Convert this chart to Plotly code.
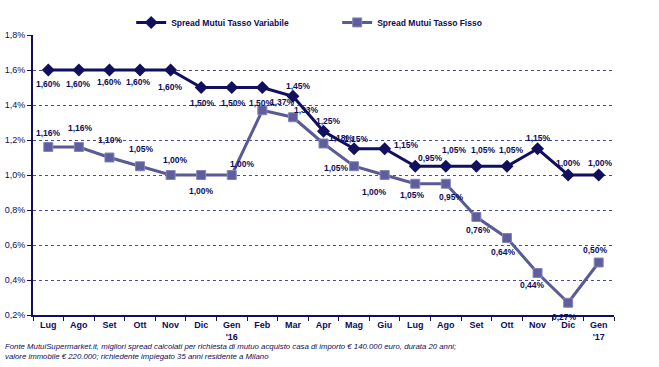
import plotly.graph_objects as go

# ---- data ----
months = ["Lug", "Ago", "Set", "Ott", "Nov", "Dic", "Gen<br>'16", "Feb", "Mar", "Apr",
          "Mag", "Giu", "Lug", "Ago", "Set", "Ott", "Nov", "Dic", "Gen<br>'17"]
variabile = [1.60, 1.60, 1.60, 1.60, 1.60, 1.50, 1.50, 1.50, 1.45, 1.25,
             1.15, 1.15, 1.05, 1.05, 1.05, 1.05, 1.15, 1.00, 1.00]
fisso = [1.16, 1.16, 1.10, 1.05, 1.00, 1.00, 1.00, 1.37, 1.33, 1.18,
         1.05, 1.00, 0.95, 0.95, 0.76, 0.64, 0.44, 0.27, 0.50]
# data labels as printed on the original chart
var_labels = ["1,60%", "1,60%", "1,60%", "1,60%", "1,60%", "1,50%", "1,50%", "1,50%", "1,45%", "1,25%",
              "1,15%", "1,15%", "0,95%", "1,05%", "1,05%", "1,05%", "1,15%", "1,00%", "1,00%"]
fix_labels = ["1,16%", "1,16%", "1,10%", "1,05%", "1,00%", "1,00%", "1,00%", "1,37%", "1,33%", "1,18%",
              "1,05%", "1,00%", "1,05%", "0,95%", "0,76%", "0,64%", "0,44%", "0,27%", "0,50%"]
ytick_vals = [0.2, 0.4, 0.6, 0.8, 1.0, 1.2, 1.4, 1.6, 1.8]
ytick_text = ["0,2%", "0,4%", "0,6%", "0,8%", "1,0%", "1,2%", "1,4%", "1,6%", "1,8%"]
name_var = "Spread Mutui Tasso Variabile"
name_fix = "Spread Mutui Tasso Fisso"
footnote = ("Fonte MutuiSupermarket.it, migliori spread calcolati per richiesta di mutuo acquisto casa di importo € 140.000 euro, durata 20 anni;<br>"
            "valore immobile € 220.000; richiedente impiegato 35 anni residente a Milano")

# ---- label offsets (pixels, style) ----
var_off = [(0, 14), (0, 14), (0, 12), (-2, 12), (0, 17), (1, 15), (2, 15), (-1, 15), (6, -10), (5, -10),
           (2, -10), (22, -4), (15, -8), (9, -16), (7, -16), (5, -16), (1, -11), (0, -12), (2, -12)]
fix_off = [(0, -14), (2, -19), (1, -18), (1, -17), (5, -15), (0, 16), (11, -11), (20, -8), (14, -7), (18, -6),
           (-18, 2), (-10, 17), (-3, 11), (6, 13), (2, 13), (-3, 14), (-5, 12), (-4, 14), (-3, -13)]

VAR_C = "#10105f"
FIX_C = "#5a5a96"
TXT_C = "#0c0c5a"
FONT = "Liberation Sans, Arial, sans-serif"

x = list(range(len(months)))

fig = go.Figure()
fig.add_trace(go.Scatter(
    x=x, y=variabile, name=name_var, mode="lines+markers",
    line=dict(color=VAR_C, width=3),
    marker=dict(symbol="diamond", size=10, color=VAR_C),
))
fig.add_trace(go.Scatter(
    x=x, y=fisso, name=name_fix, mode="lines+markers",
    line=dict(color=FIX_C, width=3),
    marker=dict(symbol="square", size=9, color="#5e5e9c", line=dict(color="#8585bb", width=1)),
))

annotations = []
for xi, yi, t, (dx, dy) in zip(x, variabile, var_labels, var_off):
    annotations.append(dict(x=xi, y=yi, text=t, showarrow=False, xshift=dx, yshift=-dy,
                            font=dict(family=FONT, size=8.5, color=TXT_C, weight="bold")))
for xi, yi, t, (dx, dy) in zip(x, fisso, fix_labels, fix_off):
    annotations.append(dict(x=xi, y=yi, text=t, showarrow=False, xshift=dx, yshift=-dy,
                            font=dict(family=FONT, size=8.5, color=TXT_C, weight="bold")))
annotations.append(dict(xref="paper", yref="paper", x=-0.052, y=-0.09, xanchor="left", yanchor="top",
                        text="<i>" + footnote + "</i>", showarrow=False, align="left",
                        font=dict(family=FONT, size=7.8, color=TXT_C)))

fig.update_layout(
    width=659, height=367,
    margin=dict(l=33, r=45, t=35, b=52, autoexpand=False),
    paper_bgcolor="white", plot_bgcolor="white",
    font=dict(family=FONT, color=TXT_C),
    showlegend=True,
    legend=dict(orientation="h", x=0.169, y=1.045, xanchor="left", yanchor="middle",
                entrywidth=161, entrywidthmode="pixels",
                font=dict(family=FONT, size=8.5, color=TXT_C, weight="bold"),
                bgcolor="rgba(0,0,0,0)", borderwidth=0, itemwidth=30),
    annotations=annotations,
)
fig.update_xaxes(
    range=[-0.5, len(months) - 0.5], tickmode="array", tickvals=x, ticktext=months,
    showgrid=False, zeroline=False, showline=True, linecolor=VAR_C, linewidth=2,
    ticks="", tickfont=dict(family=FONT, size=9, color=TXT_C, weight="bold"),
    minor=dict(tickmode="linear", tick0=-0.5, dtick=1, ticks="outside", ticklen=4,
               tickcolor=VAR_C, tickwidth=1, showgrid=False),
)
fig.update_yaxes(
    range=[0.2, 1.8], tickmode="array", tickvals=ytick_vals, ticktext=ytick_text,
    showgrid=True, gridcolor="#4a4a9a", griddash="dot", gridwidth=1,
    zeroline=False, showline=True, linecolor=VAR_C, linewidth=2,
    ticks="outside", ticklen=4, tickcolor=VAR_C,
    tickfont=dict(family=FONT, size=9, color=TXT_C),
)

fig.write_html("out.html", config={"displayModeBar": False},
               post_script="document.body.style.margin='0';document.body.style.padding='0';")
